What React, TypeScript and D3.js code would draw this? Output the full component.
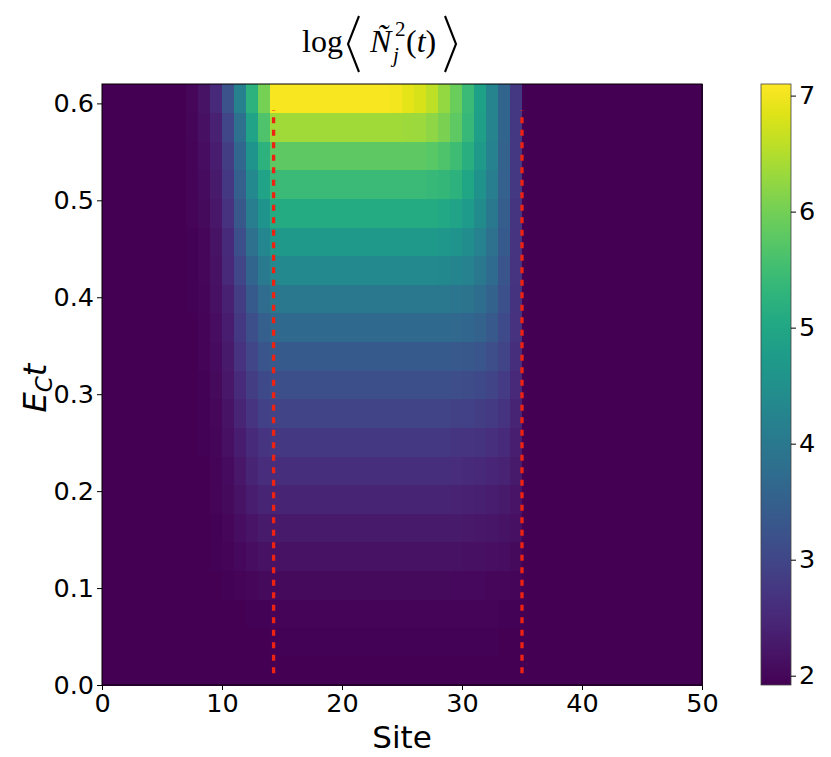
import React, { useRef, useEffect } from "react";
import * as d3 from "d3";

// sites 0..49, times 0..0.60 (one row every 0.03)
const sites = d3.range(50);
const times = [
  0.0, 0.03, 0.06, 0.09, 0.12, 0.15, 0.18, 0.21, 0.24, 0.27, 0.3,
  0.33, 0.36, 0.39, 0.42, 0.45, 0.48, 0.51, 0.54, 0.57, 0.6,
];

// log <N_j^2(t)> for sites 7..34; every other site sits at the background level
const firstActiveSite = 7;
const backgroundLevel = 1.92;

const t000 = [
  1.92, 1.92, 1.92, 1.92, 1.92, 1.92, 1.92,
  1.92, 1.92, 1.92, 1.92, 1.92, 1.92, 1.92, 1.92, 1.92, 1.92,
  1.92, 1.92, 1.92, 1.92, 1.92, 1.92, 1.92, 1.92, 1.92, 1.92, 1.92,
];
const t003 = [
  1.92, 1.92, 1.92, 1.92, 1.92, 1.92, 1.92,
  1.95, 1.95, 1.95, 1.95, 1.95, 1.95, 1.95, 1.95, 1.95, 1.95,
  1.95, 1.95, 1.95, 1.95, 1.95, 1.95, 1.95, 1.95, 1.95, 1.93, 1.93,
];
const t006 = [
  1.92, 1.92, 1.92, 1.92, 1.92, 1.95, 1.95,
  1.98, 1.98, 1.98, 1.98, 1.98, 1.98, 1.98, 1.98, 1.98, 1.98,
  1.98, 1.98, 1.98, 1.98, 1.98, 1.98, 1.98, 1.98, 1.98, 1.95, 1.95,
];
const t009 = [
  1.92, 1.92, 1.94, 1.96, 1.98, 2.02, 2.05,
  2.05, 2.05, 2.05, 2.05, 2.05, 2.05, 2.05, 2.05, 2.05, 2.05,
  2.05, 2.05, 2.05, 2.05, 2.05, 2.04, 2.04, 2.03, 2.02, 2.01, 1.99,
];
const t012 = [
  1.92, 1.92, 1.95, 1.98, 2.03, 2.1, 2.15,
  2.15, 2.15, 2.15, 2.15, 2.15, 2.15, 2.15, 2.15, 2.15, 2.15,
  2.15, 2.15, 2.15, 2.15, 2.15, 2.15, 2.14, 2.13, 2.11, 2.09, 2.05,
];
const t015 = [
  1.92, 1.93, 1.96, 2.01, 2.1, 2.2, 2.28,
  2.28, 2.28, 2.28, 2.28, 2.28, 2.28, 2.28, 2.28, 2.28, 2.28,
  2.28, 2.28, 2.28, 2.28, 2.28, 2.27, 2.26, 2.24, 2.22, 2.18, 2.13,
];
const t018 = [
  1.92, 1.94, 1.97, 2.05, 2.18, 2.33, 2.44,
  2.44, 2.44, 2.44, 2.44, 2.44, 2.44, 2.44, 2.44, 2.44, 2.44,
  2.44, 2.44, 2.44, 2.44, 2.44, 2.42, 2.4, 2.38, 2.33, 2.28, 2.2,
];
const t021 = [
  1.92, 1.94, 1.98, 2.08, 2.23, 2.44, 2.57,
  2.59, 2.59, 2.59, 2.59, 2.59, 2.59, 2.59, 2.59, 2.59, 2.59,
  2.59, 2.59, 2.59, 2.59, 2.59, 2.57, 2.54, 2.52, 2.46, 2.41, 2.28,
];
const t024 = [
  1.92, 1.95, 2.0, 2.13, 2.33, 2.54, 2.7,
  2.75, 2.75, 2.75, 2.75, 2.75, 2.75, 2.75, 2.75, 2.75, 2.75,
  2.75, 2.75, 2.75, 2.75, 2.75, 2.72, 2.7, 2.67, 2.62, 2.54, 2.36,
];
const t027 = [
  1.92, 1.95, 2.02, 2.18, 2.44, 2.7, 2.9,
  2.96, 2.96, 2.96, 2.96, 2.96, 2.96, 2.96, 2.96, 2.96, 2.96,
  2.96, 2.96, 2.96, 2.96, 2.96, 2.93, 2.9, 2.85, 2.77, 2.67, 2.44,
];
const t030 = [
  1.93, 1.96, 2.05, 2.23, 2.54, 2.85, 3.06,
  3.16, 3.16, 3.16, 3.16, 3.16, 3.16, 3.16, 3.16, 3.16, 3.16,
  3.16, 3.16, 3.16, 3.16, 3.16, 3.14, 3.11, 3.06, 2.96, 2.83, 2.52,
];
const t033 = [
  1.94, 1.97, 2.08, 2.28, 2.65, 3.01, 3.27,
  3.37, 3.37, 3.37, 3.37, 3.37, 3.37, 3.37, 3.37, 3.37, 3.37,
  3.37, 3.37, 3.37, 3.37, 3.37, 3.34, 3.32, 3.27, 3.14, 2.96, 2.59,
];
const t036 = [
  1.94, 1.98, 2.1, 2.33, 2.75, 3.16, 3.47,
  3.68, 3.68, 3.68, 3.68, 3.68, 3.68, 3.68, 3.68, 3.68, 3.68,
  3.68, 3.68, 3.68, 3.68, 3.68, 3.66, 3.6, 3.53, 3.34, 3.09, 2.65,
];
const t039 = [
  1.95, 2.0, 2.13, 2.39, 2.85, 3.37, 3.73,
  3.99, 3.99, 3.99, 3.99, 3.99, 3.99, 3.99, 3.99, 3.99, 3.99,
  3.99, 3.99, 3.99, 3.99, 3.99, 3.94, 3.89, 3.76, 3.53, 3.19, 2.67,
];
const t042 = [
  1.95, 2.01, 2.15, 2.49, 3.01, 3.58, 4.04,
  4.35, 4.35, 4.35, 4.35, 4.35, 4.35, 4.35, 4.35, 4.35, 4.35,
  4.35, 4.35, 4.35, 4.35, 4.33, 4.28, 4.2, 3.99, 3.71, 3.29, 2.7,
];
const t045 = [
  1.96, 2.02, 2.18, 2.54, 3.16, 3.84, 4.3,
  4.72, 4.72, 4.72, 4.72, 4.72, 4.72, 4.72, 4.72, 4.72, 4.72,
  4.72, 4.72, 4.72, 4.72, 4.69, 4.61, 4.46, 4.2, 3.84, 3.37, 2.7,
];
const t048 = [
  1.97, 2.05, 2.23, 2.65, 3.32, 4.1, 4.61,
  5.08, 5.08, 5.08, 5.08, 5.08, 5.08, 5.08, 5.08, 5.08, 5.08,
  5.08, 5.08, 5.08, 5.08, 5.03, 4.92, 4.74, 4.41, 3.99, 3.45, 2.72,
];
const t051 = [
  1.97, 2.08, 2.28, 2.75, 3.47, 4.35, 4.92,
  5.44, 5.44, 5.44, 5.44, 5.44, 5.44, 5.44, 5.44, 5.44, 5.44,
  5.44, 5.44, 5.44, 5.39, 5.34, 5.24, 4.98, 4.56, 4.1, 3.5, 2.75,
];
const t054 = [
  1.98, 2.1, 2.33, 2.85, 3.63, 4.61, 5.24,
  5.81, 5.81, 5.81, 5.81, 5.81, 5.81, 5.81, 5.81, 5.81, 5.81,
  5.81, 5.81, 5.81, 5.75, 5.65, 5.49, 5.18, 4.72, 4.2, 3.55, 2.75,
];
const t057 = [
  2.0, 2.13, 2.39, 3.01, 3.84, 4.92, 5.65,
  6.37, 6.37, 6.37, 6.37, 6.37, 6.37, 6.37, 6.37, 6.37, 6.37,
  6.37, 6.35, 6.32, 6.22, 6.06, 5.81, 5.39, 4.82, 4.25, 3.58, 2.75,
];
const t060 = [
  2.02, 2.18, 2.49, 3.22, 4.15, 5.24, 6.01,
  7.05, 7.05, 7.05, 7.05, 7.05, 7.05, 7.05, 7.05, 7.05, 7.05,
  7.0, 6.89, 6.79, 6.58, 6.27, 5.91, 5.44, 4.87, 4.25, 3.58, 2.75,
];
const activeRows = [
  t000, t003, t006, t009, t012, t015, t018, t021, t024, t027, t030,
  t033, t036, t039, t042, t045, t048, t051, t054, t057, t060,
];

const xTicks = [0, 10, 20, 30, 40, 50];
const yTicks = [0.0, 0.1, 0.2, 0.3, 0.4, 0.5, 0.6];
const colorTicks = [2, 3, 4, 5, 6, 7];
const colorDomain = [1.92, 7.1];
const timeMax = 0.62;

// red dashed light-cone edges
const coneSites = [14.3, 35.0];
const coneTimes = [0.012, 0.593];

const W = 831;
const H = 757;
const plot = { left: 102, top: 84, right: 702, bottom: 685 };
const bar = { left: 761, right: 791 };
const tickFont = "'DejaVu Sans', sans-serif";

export default function App() {
  const svgRef = useRef<SVGSVGElement>(null);

  useEffect(() => {
    if (!svgRef.current) return;
    const svg = d3.select(svgRef.current);
    svg.selectAll("*").remove();

    const x = d3.scaleLinear().domain([0, 50]).range([plot.left, plot.right]);
    const y = d3.scaleLinear().domain([0, timeMax]).range([plot.bottom, plot.top]);
    const rowBand = d3
      .scaleBand<number>()
      .domain(times)
      .range([plot.bottom, plot.top])
      .paddingInner(0)
      .paddingOuter(0);
    const color = d3.scaleSequential(d3.interpolateViridis).domain(colorDomain as [number, number]);

    const cells: { site: number; t: number; v: number }[] = [];
    times.forEach((t, r) => {
      const row = activeRows[r];
      sites.forEach((s) => {
        const k = s - firstActiveSite;
        const v = k >= 0 && k < row.length ? row[k] : backgroundLevel;
        cells.push({ site: s, t, v });
      });
    });

    // Heatmap
    svg
      .append("g")
      .attr("shape-rendering", "crispEdges")
      .selectAll("rect")
      .data(cells)
      .enter()
      .append("rect")
      .attr("x", (d) => x(d.site))
      .attr("width", (d) => x(d.site + 1) - x(d.site) + 0.5)
      .attr("y", (d) => rowBand(d.t)!)
      .attr("height", rowBand.bandwidth() + 0.5)
      .attr("fill", (d) => color(d.v));

    // Light-cone lines
    svg
      .append("g")
      .selectAll("line")
      .data(coneSites)
      .enter()
      .append("line")
      .attr("x1", (d) => x(d))
      .attr("x2", (d) => x(d))
      .attr("y1", y(coneTimes[0]))
      .attr("y2", y(coneTimes[1]))
      .attr("stroke", "#ee2211")
      .attr("stroke-width", 3.3)
      .attr("stroke-dasharray", "6,6.5");

    // Frame
    svg
      .append("rect")
      .attr("x", plot.left)
      .attr("y", plot.top)
      .attr("width", plot.right - plot.left)
      .attr("height", plot.bottom - plot.top)
      .attr("fill", "none")
      .attr("stroke", "#000")
      .attr("stroke-width", 1);

    const styleAxis = (g: d3.Selection<SVGGElement, unknown, null, undefined>) => {
      g.select(".domain").remove();
      g.selectAll("text").attr("font-family", tickFont).attr("font-size", 25.5).attr("fill", "#000");
      g.selectAll("line").attr("stroke", "#000").attr("stroke-width", 1);
    };

    svg
      .append("g")
      .attr("transform", `translate(0,${plot.bottom})`)
      .call(d3.axisBottom(x).tickValues(xTicks).tickSize(5).tickPadding(4))
      .call(styleAxis);

    svg
      .append("g")
      .attr("transform", `translate(${plot.left},0)`)
      .call(d3.axisLeft(y).tickValues(yTicks).tickFormat(d3.format(".1f")).tickSize(5).tickPadding(3))
      .call(styleAxis);

    // Colorbar
    const cbar = d3.scaleLinear().domain(colorDomain).range([plot.bottom, plot.top]);
    const grad = svg
      .append("defs")
      .append("linearGradient")
      .attr("id", "viridisGrad")
      .attr("x1", 0)
      .attr("x2", 0)
      .attr("y1", 1)
      .attr("y2", 0);
    d3.range(0, 1.0001, 0.05).forEach((f) => {
      grad
        .append("stop")
        .attr("offset", f)
        .attr("stop-color", d3.interpolateViridis(f));
    });
    svg
      .append("rect")
      .attr("x", bar.left)
      .attr("y", plot.top)
      .attr("width", bar.right - bar.left)
      .attr("height", plot.bottom - plot.top)
      .attr("fill", "url(#viridisGrad)")
      .attr("stroke", "#444")
      .attr("stroke-width", 0.8);
    svg
      .append("g")
      .attr("transform", `translate(${bar.right},0)`)
      .call(d3.axisRight(cbar).tickValues(colorTicks).tickFormat(d3.format("d")).tickSize(5).tickPadding(3))
      .call(styleAxis);

    // Axis labels
    svg
      .append("text")
      .attr("x", (plot.left + plot.right) / 2)
      .attr("y", 748)
      .attr("text-anchor", "middle")
      .attr("font-family", tickFont)
      .attr("font-size", 31)
      .text("Site");

    const yl = svg
      .append("text")
      .attr("transform", `translate(46,388) rotate(-90)`)
      .attr("text-anchor", "middle")
      .attr("font-family", tickFont)
      .attr("font-style", "italic")
      .attr("font-size", 32);
    yl.append("tspan").text("E");
    yl.append("tspan").attr("font-size", 23).attr("dy", 6).text("C");
    yl.append("tspan").attr("dy", -6).text("t");

    // Title: log < N~_j^2(t) >
    const serif = "'Liberation Serif', 'DejaVu Serif', serif";
    const title = svg.append("g").attr("font-family", serif).attr("fill", "#000");
    title.append("text").attr("x", 302).attr("y", 52).attr("font-size", 32).text("log");
    title.append("text").attr("x", 370).attr("y", 52).attr("font-size", 32).attr("font-style", "italic").text("Ñ");
    title.append("text").attr("x", 395).attr("y", 36).attr("font-size", 21).text("2");
    title.append("text").attr("x", 393).attr("y", 62).attr("font-size", 21).attr("font-style", "italic").text("j");
    const tt = title.append("text").attr("x", 406).attr("y", 52).attr("font-size", 32);
    tt.append("tspan").text("(");
    tt.append("tspan").attr("font-style", "italic").text("t");
    tt.append("tspan").text(")");
    const bracket = d3.line();
    title
      .append("path")
      .attr("d", bracket([[359, 16], [348, 44], [359, 72]]))
      .attr("fill", "none")
      .attr("stroke", "#000")
      .attr("stroke-width", 2.1);
    title
      .append("path")
      .attr("d", bracket([[445, 16], [456, 44], [445, 72]]))
      .attr("fill", "none")
      .attr("stroke", "#000")
      .attr("stroke-width", 2.1);
  }, []);

  return (
    <svg
      ref={svgRef}
      width={W}
      height={H}
      style={{ display: "block", position: "absolute", left: 0, top: 0, background: "#fff" }}
    />
  );
}
